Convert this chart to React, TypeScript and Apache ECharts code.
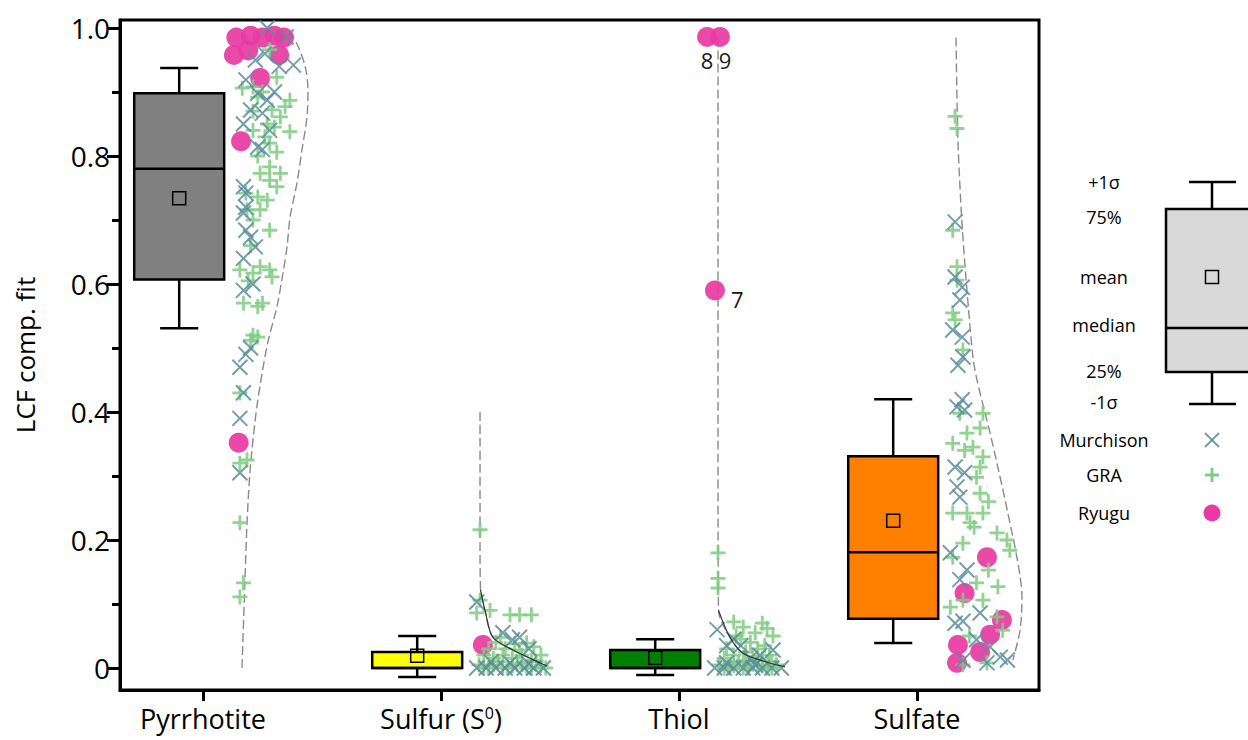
import React, { useEffect, useRef } from 'react';
import * as echarts from 'echarts';

const FONT = "'Open Sans', 'DejaVu Sans', sans-serif";

// ---- categories & box statistics ----
const categories = ['Pyrrhotite', 'Sulfur (S0)', 'Thiol', 'Sulfate'];
const boxColors = ['#808080', '#ffff00', '#008000', '#ff8000'];
const sigmaLow = [0.531, -0.014, -0.011, 0.039];
const q1 = [0.607, 0.0, 0.0, 0.077];
const median = [0.78, 0.0, 0.0, 0.181];
const mean = [0.734, 0.019, 0.016, 0.23];
const q3 = [0.898, 0.025, 0.028, 0.331];
const sigmaHigh = [0.9375, 0.05, 0.045, 0.42];

// ---- tick values ----
const majorTicks = [0, 0.2, 0.4, 0.6, 0.8, 1.0];
const minorTicks = [0.1, 0.3, 0.5, 0.7, 0.9];
const categoryTicks = [0, 1, 2, 3];

// ---- scatter points: [jitter offset from category, value] ----
const ryuguPyr = [[0.14, 0.985], [0.2, 0.988], [0.25, 0.985], [0.3, 0.988], [0.34, 0.985], [0.13, 0.958], [0.19, 0.965], [0.32, 0.958], [0.24, 0.922], [0.16, 0.823], [0.15, 0.352]];
const ryuguSulfur = [[0.176, 0.036]];
const ryuguThiol = [[0.118, 0.986], [0.172, 0.986], [0.151, 0.59]];
const ryuguThiolLabels = ['8', '9', '7'];
const ryuguSulfate = [[0.294, 0.173], [0.2, 0.117], [0.357, 0.075], [0.307, 0.052], [0.172, 0.036], [0.265, 0.025], [0.168, 0.008]];

const murchPyr = [[0.27, 1.0], [0.35, 0.986], [0.38, 0.942], [0.32, 0.94], [0.18, 0.919], [0.23, 0.898], [0.27, 0.887], [0.2, 0.872], [0.25, 0.867], [0.17, 0.85], [0.28, 0.84], [0.23, 0.814], [0.25, 0.81], [0.3, 0.9], [0.22, 0.95], [0.26, 0.96], [0.17, 0.752], [0.18, 0.742], [0.18, 0.72], [0.17, 0.711], [0.18, 0.684], [0.2, 0.673], [0.22, 0.658], [0.17, 0.64], [0.21, 0.6], [0.17, 0.59], [0.2, 0.5], [0.18, 0.49], [0.155, 0.47], [0.17, 0.43], [0.155, 0.39], [0.155, 0.305]];
const murchSulfur = [[0.15, 0.103], [0.26, 0.055], [0.3, 0.044], [0.33, 0.048], [0.37, 0.03], [0.15, 0.0], [0.19, 0.0], [0.23, 0.0], [0.27, 0.0], [0.31, 0.0], [0.35, 0.0], [0.39, 0.0], [0.43, 0.0], [0.21, 0.01], [0.29, 0.008], [0.37, 0.006]];
const murchThiol = [[0.16, 0.06], [0.2, 0.035], [0.26, 0.035], [0.395, 0.028], [0.34, 0.02], [0.23, 0.045], [0.3, 0.015], [0.15, 0.0], [0.19, 0.0], [0.23, 0.0], [0.27, 0.0], [0.31, 0.0], [0.35, 0.0], [0.39, 0.0], [0.43, 0.0], [0.2, 0.008], [0.32, 0.005]];
const murchSulfate = [[0.16, 0.697], [0.16, 0.611], [0.19, 0.595], [0.18, 0.575], [0.15, 0.528], [0.19, 0.517], [0.193, 0.486], [0.172, 0.473], [0.19, 0.419], [0.168, 0.408], [0.2, 0.403], [0.16, 0.314], [0.2, 0.305], [0.168, 0.283], [0.18, 0.267], [0.14, 0.18], [0.21, 0.153], [0.18, 0.138], [0.16, 0.07], [0.193, 0.073], [0.265, 0.086], [0.25, 0.044], [0.307, 0.033], [0.35, 0.017], [0.38, 0.0125], [0.294, 0.008], [0.193, 0.012]];

const graPyr = [[0.28, 0.966], [0.31, 0.923], [0.165, 0.906], [0.21, 0.908], [0.23, 0.892], [0.365, 0.887], [0.345, 0.877], [0.29, 0.872], [0.21, 0.87], [0.325, 0.861], [0.27, 0.85], [0.365, 0.838], [0.21, 0.84], [0.28, 0.82], [0.31, 0.806], [0.23, 0.8], [0.26, 0.83], [0.3, 0.845], [0.25, 0.9], [0.28, 0.783], [0.325, 0.773], [0.24, 0.773], [0.28, 0.762], [0.18, 0.742], [0.31, 0.752], [0.23, 0.736], [0.27, 0.731], [0.185, 0.716], [0.24, 0.716], [0.28, 0.684], [0.21, 0.7], [0.2, 0.66], [0.155, 0.622], [0.24, 0.627], [0.28, 0.622], [0.29, 0.611], [0.21, 0.617], [0.19, 0.605], [0.17, 0.57], [0.23, 0.565], [0.25, 0.57], [0.21, 0.52], [0.2, 0.512], [0.23, 0.517], [0.155, 0.43], [0.155, 0.32], [0.185, 0.325], [0.155, 0.227], [0.17, 0.133], [0.155, 0.111]];
const graSulfur = [[0.164, 0.216], [0.164, 0.106], [0.15, 0.086], [0.206, 0.09], [0.29, 0.083], [0.33, 0.083], [0.38, 0.083], [0.25, 0.048], [0.36, 0.039], [0.39, 0.033], [0.16, 0.005], [0.2, 0.0], [0.24, 0.01], [0.28, 0.0], [0.32, 0.005], [0.36, 0.0], [0.4, 0.01], [0.44, 0.0], [0.18, 0.02], [0.22, 0.015], [0.26, 0.02], [0.3, 0.015], [0.34, 0.02], [0.38, 0.012], [0.42, 0.02], [0.2, 0.03], [0.27, 0.03], [0.33, 0.028], [0.18, 0.0], [0.22, 0.005], [0.26, 0.0], [0.3, 0.004], [0.34, 0.008], [0.38, 0.0], [0.42, 0.004], [0.23, 0.04], [0.31, 0.038]];
const graThiol = [[0.164, 0.18], [0.164, 0.14], [0.164, 0.125], [0.23, 0.072], [0.27, 0.064], [0.35, 0.07], [0.37, 0.062], [0.395, 0.05], [0.24, 0.05], [0.3, 0.04], [0.2, 0.03], [0.28, 0.025], [0.33, 0.03], [0.38, 0.02], [0.17, 0.005], [0.21, 0.0], [0.25, 0.008], [0.29, 0.0], [0.33, 0.005], [0.37, 0.0], [0.41, 0.005], [0.19, 0.015], [0.23, 0.02], [0.27, 0.012], [0.31, 0.018], [0.35, 0.015], [0.39, 0.01], [0.19, 0.0], [0.23, 0.004], [0.27, 0.0], [0.31, 0.006], [0.35, 0.003], [0.39, 0.0], [0.26, 0.045], [0.32, 0.055], [0.36, 0.035]];
const graSulfate = [[0.16, 0.862], [0.168, 0.843], [0.15, 0.684], [0.168, 0.627], [0.168, 0.606], [0.15, 0.555], [0.16, 0.544], [0.193, 0.497], [0.18, 0.398], [0.277, 0.398], [0.265, 0.375], [0.21, 0.367], [0.15, 0.351], [0.235, 0.345], [0.277, 0.33], [0.265, 0.314], [0.25, 0.298], [0.265, 0.273], [0.15, 0.242], [0.21, 0.242], [0.277, 0.242], [0.223, 0.227], [0.336, 0.211], [0.378, 0.2], [0.39, 0.184], [0.193, 0.195], [0.15, 0.173], [0.3, 0.153], [0.25, 0.133], [0.34, 0.127], [0.193, 0.106], [0.14, 0.095], [0.277, 0.106], [0.336, 0.08], [0.36, 0.059], [0.294, 0.008], [0.193, 0.005], [0.2, 0.34], [0.24, 0.22], [0.3, 0.26], [0.22, 0.05]];

// ---- half-violin density outlines: [offset from category, value] ----
const violinPyr = [[0.164, 0], [0.176, 0.133], [0.185, 0.227], [0.197, 0.305], [0.21, 0.356], [0.227, 0.41], [0.248, 0.46], [0.273, 0.51], [0.311, 0.565], [0.336, 0.617], [0.353, 0.658], [0.366, 0.705], [0.395, 0.758], [0.416, 0.81], [0.437, 0.861], [0.441, 0.903], [0.429, 0.94], [0.395, 0.975], [0.353, 1.0]];
const violinSulfur = [[0.164, 0.4], [0.164, 0.2], [0.166, 0.122], [0.185, 0.09], [0.218, 0.048], [0.303, 0.028], [0.416, 0.008], [0.445, 0.003]];
const violinThiol = [[0.164, 0.985], [0.164, 0.3], [0.166, 0.09], [0.214, 0.048], [0.269, 0.023], [0.37, 0.009], [0.445, 0.002]];
const violinSulfate = [[0.164, 0.985], [0.172, 0.825], [0.189, 0.695], [0.21, 0.59], [0.235, 0.486], [0.252, 0.45], [0.285, 0.4], [0.307, 0.367], [0.336, 0.32], [0.382, 0.242], [0.424, 0.164], [0.441, 0.111], [0.433, 0.059], [0.403, 0.0125]];

const BOX_OFFSET = -0.1;
const BOX_WIDTH = 0.378;
const CAP_WIDTH = 0.16;

const X_SYMBOL = 'path://M0,0L10,10M10,0L0,10';
const PLUS_SYMBOL = 'path://M5,0L5,10M0,5L10,5';
const MURCH_COLOR = '#5c8d9c';
const GRA_COLOR = '#7fcb80';
const RYUGU_COLOR = '#e93aa3';

const place = (groups: number[][][]) => {
  const out: number[][] = [];
  groups.forEach((g, i) => g.forEach(([o, v]) => out.push([i + o, v])));
  return out;
};

export default function App() {
  const ref = useRef<HTMLDivElement>(null);

  useEffect(() => {
    if (!ref.current) return;
    const chart = echarts.init(ref.current, undefined, { renderer: 'svg' });

    const ryuguData: any[] = [];
    [ryuguPyr, ryuguSulfur, ryuguThiol, ryuguSulfate].forEach((g, i) =>
      g.forEach(([o, v], k) => {
        if (i === 2) {
          const lab = ryuguThiolLabels[k];
          const isSeven = lab === '7';
          ryuguData.push({
            value: [i + o, v],
            label: {
              show: true,
              formatter: lab,
              position: isSeven ? 'right' : 'bottom',
              distance: isSeven ? 6 : 2,
              offset: isSeven ? [0, 9] : lab === '9' ? [5, 0] : [0, 0],
              fontSize: 22,
              fontFamily: FONT,
              color: '#000',
            },
          });
        } else {
          ryuguData.push([i + o, v]);
        }
      })
    );

    const violins = [violinPyr, violinSulfur, violinThiol, violinSulfate];
    const violinSeries = violins.map((v, i) => ({
      type: 'line',
      data: v.map(([o, y]) => [i + o, y]),
      showSymbol: false,
      smooth: 0.3,
      silent: true,
      z: 1,
      lineStyle: { color: '#8a8a8a', width: 1.4, type: [9, 4] },
    }));
    const darkBend = [
      { i: 1, pts: violinSulfur.filter((p) => p[1] <= 0.125) },
      { i: 2, pts: violinThiol.filter((p) => p[1] <= 0.095) },
    ].map(({ i, pts }) => ({
      type: 'line',
      data: pts.map(([o, y]) => [i + o, y]),
      showSymbol: false,
      smooth: 0.3,
      silent: true,
      z: 7,
      lineStyle: { color: '#333', width: 1.2 },
    }));

    const option: any = {
      animation: false,
      backgroundColor: '#fff',
      grid: { left: 120, right: 209, top: 20, bottom: 50, show: true, borderColor: '#000', borderWidth: 3, containLabel: false },
      xAxis: {
        type: 'value',
        min: -0.3487,
        max: 3.5126,
        axisLine: { show: true, onZero: false, lineStyle: { color: '#000', width: 3 } },
        axisTick: { show: true, customValues: categoryTicks, length: 11, lineStyle: { color: '#000', width: 3 } },
        axisLabel: {
          customValues: categoryTicks,
          margin: 15,
          color: '#000',
          fontSize: 27,
          fontFamily: FONT,
          formatter: (v: number) => {
            const name = categories[Math.round(v)];
            if (name === 'Sulfur (S0)') return '{a|Sulfur (S}{s|0}{a|)}';
            return '{a|' + name + '}';
          },
          rich: {
            a: { fontSize: 27, fontFamily: FONT, color: '#000' },
            s: { fontSize: 16, fontFamily: FONT, color: '#000', verticalAlign: 'top', padding: [0, 0, 10, 0] },
          },
        },
        splitLine: { show: false },
      },
      yAxis: [
        {
          type: 'value',
          min: -0.0344,
          max: 1.0125,
          name: 'LCF comp. fit',
          nameLocation: 'middle',
          nameGap: 82,
          nameTextStyle: { fontSize: 26, fontFamily: FONT, color: '#000' },
          axisLine: { show: true, onZero: false, lineStyle: { color: '#000', width: 3 } },
          axisTick: { show: true, customValues: majorTicks, length: 13, lineStyle: { color: '#000', width: 3 } },
          axisLabel: {
            customValues: majorTicks,
            margin: 10,
            color: '#000',
            fontSize: 28,
            fontFamily: FONT,
            formatter: (v: number) => (Math.abs(v) < 1e-9 ? '0' : v.toFixed(1)),
          },
          splitLine: { show: false },
        },
        {
          type: 'value',
          min: -0.0344,
          max: 1.0125,
          position: 'left',
          axisLine: { show: false, onZero: false },
          axisTick: { show: true, customValues: minorTicks, length: 8, lineStyle: { color: '#000', width: 3 } },
          axisLabel: { show: false },
          splitLine: { show: false },
        },
      ],
      series: [
        ...violinSeries,
        ...darkBend,
        {
          type: 'custom',
          z: 3,
          data: categories.map((c, i) => [i, sigmaLow[i], q1[i], median[i], mean[i], q3[i], sigmaHigh[i]]),
          renderItem: (params: any, api: any) => {
            const i = api.value(0);
            const cx = i + BOX_OFFSET;
            const xc = api.coord([cx, 0])[0];
            const yLow = api.coord([cx, api.value(1)])[1];
            const yQ1 = api.coord([cx, api.value(2)])[1];
            const yMed = api.coord([cx, api.value(3)])[1];
            const yMean = api.coord([cx, api.value(4)])[1];
            const yQ3 = api.coord([cx, api.value(5)])[1];
            const yHigh = api.coord([cx, api.value(6)])[1];
            const halfW = api.size([BOX_WIDTH, 0])[0] / 2;
            const capHalf = api.size([CAP_WIDTH, 0])[0] / 2;
            const ls = { stroke: '#000', lineWidth: 2.5 };
            return {
              type: 'group',
              children: [
                { type: 'line', shape: { x1: xc, y1: yHigh, x2: xc, y2: yQ3 }, style: ls },
                { type: 'line', shape: { x1: xc, y1: yQ1, x2: xc, y2: yLow }, style: ls },
                { type: 'line', shape: { x1: xc - capHalf, y1: yHigh, x2: xc + capHalf, y2: yHigh }, style: ls },
                { type: 'line', shape: { x1: xc - capHalf, y1: yLow, x2: xc + capHalf, y2: yLow }, style: ls },
                {
                  type: 'rect',
                  shape: { x: xc - halfW, y: yQ3, width: 2 * halfW, height: yQ1 - yQ3 },
                  style: { fill: boxColors[i], stroke: '#000', lineWidth: 2.5 },
                },
                { type: 'line', shape: { x1: xc - halfW, y1: yMed, x2: xc + halfW, y2: yMed }, style: ls },
                {
                  type: 'rect',
                  shape: { x: xc - 6.5, y: yMean - 6.5, width: 13, height: 13 },
                  style: { fill: 'none', stroke: '#000', lineWidth: 1.5 },
                },
              ],
            };
          },
        },
        {
          name: 'Ryugu',
          type: 'scatter',
          z: 4,
          symbol: 'circle',
          symbolSize: 20,
          data: ryuguData,
          itemStyle: { color: RYUGU_COLOR, opacity: 0.92 },
        },
        {
          name: 'GRA',
          type: 'scatter',
          z: 5,
          symbol: PLUS_SYMBOL,
          symbolSize: 15,
          data: place([graPyr, graSulfur, graThiol, graSulfate]),
          itemStyle: { color: 'rgba(0,0,0,0)', borderColor: GRA_COLOR, borderWidth: 2.8, opacity: 0.85 },
        },
        {
          name: 'Murchison',
          type: 'scatter',
          z: 6,
          symbol: X_SYMBOL,
          symbolSize: 15,
          data: place([murchPyr, murchSulfur, murchThiol, murchSulfate]),
          itemStyle: { color: 'rgba(0,0,0,0)', borderColor: MURCH_COLOR, borderWidth: 2, opacity: 0.85 },
        },
      ],
      graphic: [
        // legend: box explanation
        { type: 'line', shape: { x1: 1212, y1: 182, x2: 1212, y2: 209 }, style: { stroke: '#000', lineWidth: 2.5 } },
        { type: 'line', shape: { x1: 1212, y1: 372, x2: 1212, y2: 404 }, style: { stroke: '#000', lineWidth: 2.5 } },
        { type: 'line', shape: { x1: 1189, y1: 182, x2: 1236, y2: 182 }, style: { stroke: '#000', lineWidth: 2.5 } },
        { type: 'line', shape: { x1: 1189, y1: 404, x2: 1236, y2: 404 }, style: { stroke: '#000', lineWidth: 2.5 } },
        { type: 'rect', shape: { x: 1166, y: 209, width: 94, height: 163 }, style: { fill: '#d9d9d9', stroke: '#000', lineWidth: 2.5 } },
        { type: 'line', shape: { x1: 1166, y1: 328, x2: 1260, y2: 328 }, style: { stroke: '#000', lineWidth: 2.5 } },
        { type: 'rect', shape: { x: 1205.5, y: 270.5, width: 13, height: 13 }, style: { fill: 'none', stroke: '#000', lineWidth: 1.5 } },
        ...[
          ['+1σ', 182],
          ['75%', 217],
          ['mean', 277],
          ['median', 325],
          ['25%', 371],
          ['-1σ', 402],
          ['Murchison', 440],
          ['GRA', 475],
          ['Ryugu', 513],
        ].map(([t, y]) => ({
          type: 'text',
          x: 1104,
          y: y as number,
          style: { text: t as string, fill: '#000', font: `18px ${FONT}`, textAlign: 'center', textVerticalAlign: 'middle' },
        })),
        { type: 'line', shape: { x1: 1205, y1: 433, x2: 1219, y2: 447 }, style: { stroke: MURCH_COLOR, lineWidth: 2, opacity: 0.85 } },
        { type: 'line', shape: { x1: 1219, y1: 433, x2: 1205, y2: 447 }, style: { stroke: MURCH_COLOR, lineWidth: 2, opacity: 0.85 } },
        { type: 'line', shape: { x1: 1212, y1: 468, x2: 1212, y2: 482 }, style: { stroke: GRA_COLOR, lineWidth: 2.8 } },
        { type: 'line', shape: { x1: 1205, y1: 475, x2: 1219, y2: 475 }, style: { stroke: GRA_COLOR, lineWidth: 2.8 } },
        { type: 'circle', shape: { cx: 1212, cy: 513, r: 8.5 }, style: { fill: RYUGU_COLOR } },
      ],
    };

    chart.setOption(option);
    return () => chart.dispose();
  }, []);

  return <div ref={ref} style={{ position: 'absolute', left: 0, top: 0, width: 1248, height: 740 }} />;
}
